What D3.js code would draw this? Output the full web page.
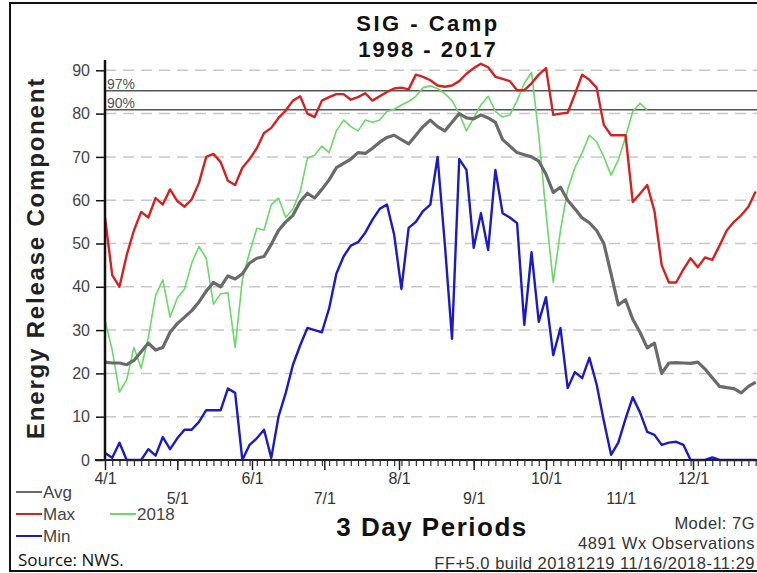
<!DOCTYPE html>
<html>
<head>
<meta charset="utf-8">
<script src="https://cdn.jsdelivr.net/npm/d3@7"></script>
<style>
  body { margin: 0; background: #fff; }
  svg { display: block; font-family: Arial, "Liberation Sans", sans-serif; }
</style>
</head>
<body>
<div id="chart"></div>
<script>
// SVG size
const svgWidth = 757;
const svgHeight = 573;

// Plot area (x range is in pixels for 4/1 .. 12/1, the chart runs past the right edge)
const plot = { left: 105, top: 60, bottom: 460, right: 757 };

// 3-day periods starting 4/1
const avgValues = [22.6, 22.4, 22.4, 22.0, 23.0, 25.0, 27.0, 25.4, 26.0, 29.5,
  31.5, 33.0, 34.5, 36.5, 39.0, 41.0, 40.0, 42.5, 41.8, 43.0,
  45.5, 46.6, 47.0, 49.8, 53.0, 55.0, 56.5, 59.7, 61.6, 60.5,
  62.5, 64.7, 67.5, 68.5, 69.5, 71.0, 70.8, 72.0, 73.4, 74.5,
  75.0, 74.0, 73.0, 75.0, 77.0, 78.5, 77.0, 76.0, 78.0, 80.0,
  79.0, 78.8, 79.7, 79.0, 78.0, 74.0, 72.5, 71.0, 70.5, 70.0,
  69.0, 66.0, 61.8, 63.0, 60.0, 58.0, 55.9, 54.8, 53.0, 50.0,
  43.0, 35.8, 37.0, 32.5, 29.5, 25.9, 27.0, 20.0, 22.4, 22.5,
  22.4, 22.3, 22.6, 21.0, 19.0, 17.0, 16.7, 16.5, 15.5, 17.0, 18.0];

const maxValues = [56, 42.7, 40, 47.3, 53, 57.3, 56, 60.5, 59, 62.5,
  59.8, 58.5, 60.2, 64, 70, 70.7, 68.8, 64.5, 63.5, 67.5,
  69.5, 72, 75.5, 76.7, 79, 80.7, 83, 84, 80, 79.2,
  83, 83.8, 84.5, 84.5, 83.2, 83.8, 84.7, 83, 84, 85,
  85.8, 86, 85.6, 89, 88.5, 87.7, 86.5, 86.2, 86.5, 87.5,
  89.2, 90.5, 91.5, 90.7, 88.5, 88, 87.5, 85.4, 85.4, 87,
  89, 90.5, 79.7, 80, 80.2, 84.5, 89, 87.8, 86, 77.4,
  75, 75, 75, 59.6, 61.5, 63.5, 57.5, 45, 41, 41,
  44, 46.6, 44.5, 46.8, 46.2, 49.5, 53, 55, 56.5, 58.5, 62];

const minValues = [1.6, 0.5, 4, 0, 0, 0, 2.5, 1, 5.3, 2.5,
  5, 7, 7, 8.8, 11.5, 11.5, 11.5, 16.5, 15.5, 0,
  3.5, 5, 7, 0.5, 10, 15.5, 22, 26.5, 30.5, 30,
  29.5, 35, 43, 47, 49.5, 50.3, 52.5, 55.5, 58, 59,
  52, 39.5, 53.6, 55, 57.5, 59, 70, 50, 28, 69.5,
  67, 49, 57, 48.5, 67, 57, 56, 54.7, 31.2, 48,
  31.9, 37.6, 24.2, 30.5, 16.6, 20.3, 18.9, 23.6, 17.5, 9,
  1.2, 4, 9.5, 14.5, 11, 6.5, 5.8, 3.5, 4, 4.2,
  3.5, 0, 0, 0, 0.6, 0, 0, 0, 0, 0, 0];

const values2018 = [32.3, 25.4, 15.7, 18.5, 26, 21.2, 28.4, 38, 41.6, 33,
  37.4, 39.5, 45.5, 49.3, 46.6, 36, 38.4, 38.6, 26, 41.6,
  48, 53.5, 53.1, 59, 60.5, 56, 58, 62, 69.7, 70.4,
  72.5, 71, 76, 78.5, 77, 76, 78.5, 78, 78.5, 80.5,
  81, 82, 82.8, 84, 86, 86.4, 85.8, 84.6, 83, 80,
  76, 79, 82, 84, 80.5, 79.2, 79.7, 83, 87, 89.5,
  75, 57, 41, 53, 62.5, 67.5, 71, 75, 73.5, 70,
  65.8, 69.3, 74.6, 80.5, 82.4, 80.8];

// Percentile lines
const percentiles = [
  { label: "97%", value: 85.3 },
  { label: "90%", value: 80.9 }
];

const yTicks = [0, 10, 20, 30, 40, 50, 60, 70, 80, 90];
const monthTicks = ["4/1", "5/1", "6/1", "7/1", "8/1", "9/1", "10/1", "11/1", "12/1"];

const start = new Date(Date.UTC(2018, 3, 1));
const periodDate = i => d3.utcDay.offset(start, 3 * i);
const monthDate = s => {
  const [m, d] = s.split("/").map(Number);
  return new Date(Date.UTC(2018, m - 1, d));
};

const svg = d3.select("#chart")
  .append("svg")
  .attr("width", svgWidth)
  .attr("height", svgHeight);

// Scales
const xScale = d3.scaleUtc()
  .domain([start, monthDate("12/1")])
  .range([plot.left, 693]);

const yScale = d3.scaleLinear()
  .domain([0, 10])
  .range([plot.bottom, plot.bottom - 43.3]);

// Outer frame
svg.append("rect")
  .attr("x", 10).attr("y", 3)
  .attr("width", 760).attr("height", 568)
  .attr("fill", "none")
  .attr("stroke", "#111")
  .attr("stroke-width", 2);

// Dashed grid lines
svg.append("g")
  .selectAll("line")
  .data(yTicks.filter(d => d > 0))
  .enter()
  .append("line")
  .attr("x1", plot.left)
  .attr("x2", plot.right)
  .attr("y1", d => yScale(d))
  .attr("y2", d => yScale(d))
  .attr("stroke", "#c8c8c8")
  .attr("stroke-width", 1.5)
  .attr("stroke-dasharray", "11,7");

// Percentile lines
const pct = svg.append("g");
pct.selectAll("line")
  .data(percentiles)
  .enter()
  .append("line")
  .attr("x1", plot.left)
  .attr("x2", plot.right)
  .attr("y1", d => yScale(d.value))
  .attr("y2", d => yScale(d.value))
  .attr("stroke", "#555")
  .attr("stroke-width", 1.5);

pct.selectAll("text")
  .data(percentiles)
  .enter()
  .append("text")
  .attr("x", plot.left + 2)
  .attr("y", d => yScale(d.value) - 2)
  .attr("font-size", 14)
  .attr("fill", "#555")
  .text(d => d.label);

// Series lines
const line = d3.line()
  .x((d, i) => xScale(periodDate(i)))
  .y(d => yScale(d));

const series = [
  { name: "2018", values: values2018, color: "#6ad86a", width: 1.6 },
  { name: "Min", values: minValues, color: "#1b1bc4", width: 2.4 },
  { name: "Max", values: maxValues, color: "#d42222", width: 2.4 },
  { name: "Avg", values: avgValues, color: "#6a6a6a", width: 3.2 }
];

svg.append("g")
  .selectAll("path")
  .data(series)
  .enter()
  .append("path")
  .attr("d", d => line(d.values))
  .attr("fill", "none")
  .attr("stroke", d => d.color)
  .attr("stroke-width", d => d.width)
  .attr("stroke-linejoin", "round");

// Y axis
const leftAxis = d3.axisLeft(yScale)
  .tickValues(yTicks)
  .tickSize(9)
  .tickPadding(6);

const yAxisG = svg.append("g")
  .attr("transform", `translate(${plot.left}, 0)`)
  .call(leftAxis);
yAxisG.select(".domain").remove();
yAxisG.selectAll("line").attr("stroke", "#111").attr("stroke-width", 1.5);
yAxisG.selectAll("text")
  .attr("font-size", 16)
  .attr("font-family", "Arial, 'Liberation Sans', sans-serif")
  .attr("fill", "#444");

svg.append("line")
  .attr("x1", plot.left).attr("x2", plot.left)
  .attr("y1", plot.top).attr("y2", plot.bottom)
  .attr("stroke", "#111")
  .attr("stroke-width", 2.5);

// X axis: minor ticks every 3 days
const minorAxis = d3.axisBottom(xScale)
  .tickValues(d3.range(92).map(periodDate))
  .tickSize(6)
  .tickFormat("");

const xMinor = svg.append("g")
  .attr("transform", `translate(0, ${plot.bottom})`)
  .call(minorAxis);
xMinor.select(".domain").remove();
xMinor.selectAll("line").attr("stroke", "#333").attr("stroke-width", 1.2);

// X axis: month ticks with alternating label rows
const majorAxis = d3.axisBottom(xScale)
  .tickValues(monthTicks.map(monthDate))
  .tickSize(10)
  .tickFormat((d, i) => monthTicks[i]);

const xMajor = svg.append("g")
  .attr("transform", `translate(0, ${plot.bottom})`)
  .call(majorAxis);
xMajor.select(".domain").remove();
xMajor.selectAll("line").attr("stroke", "#222").attr("stroke-width", 1.5);
xMajor.selectAll("text")
  .attr("y", (d, i) => i % 2 === 0 ? 13 : 33)
  .attr("font-size", 16)
  .attr("font-family", "Arial, 'Liberation Sans', sans-serif")
  .attr("fill", "#333");

svg.append("line")
  .attr("x1", 95).attr("x2", plot.right)
  .attr("y1", plot.bottom).attr("y2", plot.bottom)
  .attr("stroke", "#222")
  .attr("stroke-width", 2);

// Titles
svg.append("text")
  .attr("x", 428).attr("y", 31)
  .attr("text-anchor", "middle")
  .attr("font-size", 22).attr("font-weight", "bold")
  .attr("letter-spacing", 2.5)
  .attr("fill", "#111")
  .text("SIG - Camp");

svg.append("text")
  .attr("x", 428).attr("y", 56.5)
  .attr("text-anchor", "middle")
  .attr("font-size", 22).attr("font-weight", "bold")
  .attr("letter-spacing", 2)
  .attr("fill", "#111")
  .text("1998 - 2017");

svg.append("text")
  .attr("transform", "translate(44, 258) rotate(-90)")
  .attr("text-anchor", "middle")
  .attr("font-size", 24).attr("font-weight", "bold")
  .attr("letter-spacing", 1.8)
  .attr("fill", "#222")
  .text("Energy Release Component");

svg.append("text")
  .attr("x", 432).attr("y", 536)
  .attr("text-anchor", "middle")
  .attr("font-size", 26).attr("font-weight", "bold")
  .attr("letter-spacing", 1.5)
  .attr("fill", "#111")
  .text("3 Day Periods");

// Legend
const legendItems = [
  { name: "Avg", color: "#6a6a6a", x: 16, y: 492 },
  { name: "Max", color: "#d42222", x: 16, y: 514 },
  { name: "Min", color: "#1b1bc4", x: 16, y: 536 },
  { name: "2018", color: "#6ad86a", x: 110, y: 514 }
];

const legend = svg.append("g");
legend.selectAll("line")
  .data(legendItems)
  .enter()
  .append("line")
  .attr("x1", d => d.x)
  .attr("x2", d => d.x + 26)
  .attr("y1", d => d.y)
  .attr("y2", d => d.y)
  .attr("stroke", d => d.color)
  .attr("stroke-width", 2);

legend.selectAll("text")
  .data(legendItems)
  .enter()
  .append("text")
  .attr("x", d => d.x + 27)
  .attr("y", d => d.y + 6)
  .attr("font-size", 17)
  .attr("fill", "#444")
  .text(d => d.name);

// Footer notes, right aligned at the edge
const notes = [
  { text: "Model: 7G", y: 529 },
  { text: "4891 Wx Observations", y: 549 },
  { text: "FF+5.0 build 20181219 11/16/2018-11:29", y: 569 }
];
svg.append("g")
  .selectAll("text")
  .data(notes)
  .enter()
  .append("text")
  .attr("x", 755)
  .attr("y", d => d.y)
  .attr("text-anchor", "end")
  .attr("font-size", 16.5)
  .attr("letter-spacing", 0.5)
  .attr("fill", "#333")
  .text(d => d.text);

svg.append("text")
  .attr("x", 18).attr("y", 566)
  .attr("font-size", 17)
  .attr("font-family", "'Open Sans', 'Noto Sans', sans-serif")
  .attr("fill", "#111")
  .text("Source: NWS.");
</script>
</body>
</html>
